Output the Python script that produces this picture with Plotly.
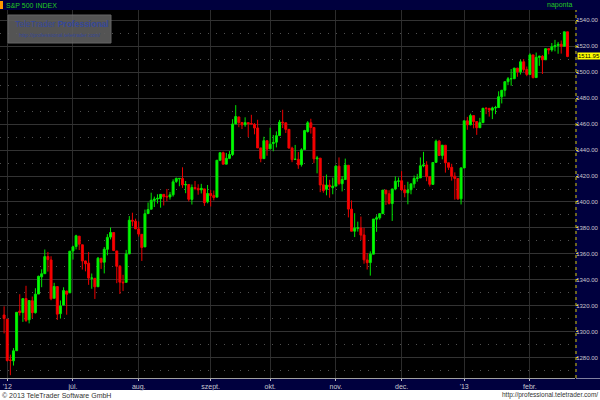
import plotly.graph_objects as go

# ---------------- data (S&P 500 daily) ----------------
dates = [
    "2012-05-31",
    "2012-06-01", "2012-06-04", "2012-06-05", "2012-06-06", "2012-06-07", "2012-06-08",
    "2012-06-11", "2012-06-12", "2012-06-13", "2012-06-14", "2012-06-15",
    "2012-06-18", "2012-06-19", "2012-06-20", "2012-06-21", "2012-06-22",
    "2012-06-25", "2012-06-26", "2012-06-27", "2012-06-28", "2012-06-29",
    "2012-07-02", "2012-07-03", "2012-07-05", "2012-07-06",
    "2012-07-09", "2012-07-10", "2012-07-11", "2012-07-12", "2012-07-13",
    "2012-07-16", "2012-07-17", "2012-07-18", "2012-07-19", "2012-07-20",
    "2012-07-23", "2012-07-24", "2012-07-25", "2012-07-26", "2012-07-27",
    "2012-07-30", "2012-07-31",
    "2012-08-01", "2012-08-02", "2012-08-03",
    "2012-08-06", "2012-08-07", "2012-08-08", "2012-08-09", "2012-08-10",
    "2012-08-13", "2012-08-14", "2012-08-15", "2012-08-16", "2012-08-17",
    "2012-08-20", "2012-08-21", "2012-08-22", "2012-08-23", "2012-08-24",
    "2012-08-27", "2012-08-28", "2012-08-29", "2012-08-30", "2012-08-31",
    "2012-09-04", "2012-09-05", "2012-09-06", "2012-09-07",
    "2012-09-10", "2012-09-11", "2012-09-12", "2012-09-13", "2012-09-14",
    "2012-09-17", "2012-09-18", "2012-09-19", "2012-09-20", "2012-09-21",
    "2012-09-24", "2012-09-25", "2012-09-26", "2012-09-27", "2012-09-28",
    "2012-10-01", "2012-10-02", "2012-10-03", "2012-10-04", "2012-10-05",
    "2012-10-08", "2012-10-09", "2012-10-10", "2012-10-11", "2012-10-12",
    "2012-10-15", "2012-10-16", "2012-10-17", "2012-10-18", "2012-10-19",
    "2012-10-22", "2012-10-23", "2012-10-24", "2012-10-25", "2012-10-26",
    "2012-10-31",
    "2012-11-01", "2012-11-02", "2012-11-05", "2012-11-06", "2012-11-07", "2012-11-08", "2012-11-09",
    "2012-11-12", "2012-11-13", "2012-11-14", "2012-11-15", "2012-11-16",
    "2012-11-19", "2012-11-20", "2012-11-21", "2012-11-23",
    "2012-11-26", "2012-11-27", "2012-11-28", "2012-11-29", "2012-11-30",
    "2012-12-03", "2012-12-04", "2012-12-05", "2012-12-06", "2012-12-07",
    "2012-12-10", "2012-12-11", "2012-12-12", "2012-12-13", "2012-12-14",
    "2012-12-17", "2012-12-18", "2012-12-19", "2012-12-20", "2012-12-21",
    "2012-12-24", "2012-12-26", "2012-12-27", "2012-12-28", "2012-12-31",
    "2013-01-02", "2013-01-03", "2013-01-04",
    "2013-01-07", "2013-01-08", "2013-01-09", "2013-01-10", "2013-01-11",
    "2013-01-14", "2013-01-15", "2013-01-16", "2013-01-17", "2013-01-18",
    "2013-01-22", "2013-01-23", "2013-01-24", "2013-01-25",
    "2013-01-28", "2013-01-29", "2013-01-30", "2013-01-31",
    "2013-02-01", "2013-02-04", "2013-02-05", "2013-02-06", "2013-02-07", "2013-02-08",
    "2013-02-11", "2013-02-12", "2013-02-13", "2013-02-14", "2013-02-15",
    "2013-02-19", "2013-02-20",
]

opens = [
    1313.09,
    1309.87, 1278.29, 1277.82, 1285.61, 1316.15, 1314.99,
    1325.72, 1309.40, 1324.02, 1314.88, 1329.19,
    1342.42, 1344.83, 1358.04, 1355.43, 1325.92,
    1334.90, 1314.09, 1320.71, 1331.52, 1330.12,
    1362.33, 1365.75, 1373.72, 1367.09,
    1354.66, 1352.96, 1341.40, 1341.29, 1334.81,
    1356.50, 1353.68, 1363.58, 1373.01, 1376.51,
    1362.34, 1350.52, 1338.35, 1338.17, 1360.05,
    1385.94, 1385.27,
    1379.32, 1375.13, 1365.45,
    1391.04, 1394.46, 1401.23, 1402.26, 1402.58,
    1405.87, 1404.36, 1403.89, 1405.57, 1415.84,
    1417.85, 1418.13, 1413.09, 1413.49, 1401.99,
    1411.13, 1410.44, 1409.32, 1410.08, 1400.07,
    1406.54, 1404.94, 1403.74, 1432.12,
    1437.92, 1429.13, 1433.56, 1436.56, 1460.07,
    1465.42, 1461.19, 1459.50, 1461.05, 1460.34,
    1459.76, 1456.94, 1441.60, 1433.36, 1447.13,
    1440.90, 1444.99, 1446.05, 1451.08, 1461.40,
    1460.93, 1455.90, 1441.48, 1432.82, 1432.84,
    1428.75, 1440.31, 1454.22, 1460.94, 1457.34,
    1433.21, 1433.74, 1413.20, 1409.74, 1412.97,
    1410.99,
    1412.20, 1427.59, 1414.02, 1417.26, 1428.27, 1394.53, 1377.55,
    1379.86, 1380.03, 1374.64, 1355.41, 1353.36,
    1359.88, 1386.82, 1387.79, 1391.03,
    1409.15, 1406.29, 1398.77, 1409.96, 1415.95,
    1416.34, 1409.46, 1407.05, 1409.43, 1413.95,
    1418.07, 1418.55, 1427.84, 1428.48, 1419.45,
    1413.54, 1430.47, 1446.79, 1435.81, 1443.67,
    1430.15, 1426.66, 1419.83, 1418.10, 1402.43,
    1426.19, 1462.42, 1459.37,
    1466.47, 1461.89, 1457.15, 1461.02, 1472.12,
    1472.05, 1470.67, 1472.33, 1472.63, 1480.95,
    1485.98, 1492.56, 1494.81, 1494.82,
    1502.96, 1500.18, 1507.84, 1501.96,
    1498.11, 1513.17, 1495.71, 1511.29, 1512.12, 1509.39,
    1517.93, 1517.01, 1519.43, 1520.33, 1521.38,
    1519.79, 1530.94,
]

highs = [
    1319.74,
    1309.87, 1282.55, 1287.62, 1315.13, 1329.05, 1325.81,
    1335.52, 1324.31, 1327.28, 1333.68, 1343.32,
    1348.22, 1363.46, 1361.57, 1358.27, 1337.82,
    1334.90, 1324.24, 1334.40, 1331.52, 1362.17,
    1366.35, 1374.81, 1373.85, 1367.09,
    1354.87, 1361.54, 1345.00, 1341.29, 1357.70,
    1357.26, 1365.36, 1375.26, 1380.39, 1376.51,
    1362.34, 1351.53, 1343.98, 1363.13, 1389.19,
    1391.74, 1387.16,
    1385.03, 1375.13, 1394.16,
    1399.63, 1407.14, 1404.14, 1405.95, 1405.98,
    1405.87, 1410.03, 1407.73, 1417.44, 1418.71,
    1418.13, 1426.68, 1416.12, 1413.49, 1413.46,
    1416.17, 1413.63, 1413.95, 1410.08, 1413.09,
    1409.31, 1408.81, 1432.12, 1437.92,
    1438.74, 1437.76, 1439.15, 1463.76, 1474.51,
    1465.63, 1461.47, 1465.15, 1461.23, 1467.07,
    1460.72, 1463.24, 1441.60, 1450.20, 1447.13,
    1457.14, 1451.52, 1454.30, 1463.14, 1470.96,
    1460.93, 1455.90, 1442.52, 1443.90, 1438.43,
    1441.31, 1455.51, 1462.20, 1464.02, 1457.34,
    1435.46, 1433.74, 1420.04, 1421.12, 1417.09,
    1418.76,
    1428.35, 1434.27, 1419.90, 1433.38, 1428.27, 1401.23, 1391.39,
    1384.87, 1388.81, 1380.13, 1360.62, 1362.03,
    1386.89, 1389.77, 1391.25, 1409.16,
    1409.15, 1409.01, 1410.31, 1419.70, 1418.86,
    1423.73, 1413.14, 1415.56, 1413.95, 1420.34,
    1421.64, 1434.27, 1438.59, 1431.36, 1419.45,
    1430.67, 1448.00, 1447.75, 1443.70, 1443.67,
    1430.15, 1429.42, 1422.80, 1418.10, 1426.74,
    1462.43, 1465.47, 1467.94,
    1466.47, 1461.89, 1464.73, 1472.30, 1472.75,
    1472.05, 1473.31, 1473.96, 1485.16, 1485.98,
    1492.56, 1496.13, 1502.27, 1503.26,
    1503.23, 1509.35, 1509.94, 1504.19,
    1514.41, 1513.17, 1514.96, 1512.53, 1512.90, 1518.31,
    1518.31, 1522.29, 1524.69, 1523.14, 1524.24,
    1530.94, 1530.94,
]

lows = [
    1298.90,
    1277.25, 1266.74, 1274.16, 1285.61, 1312.68, 1307.77,
    1307.73, 1306.62, 1310.51, 1314.14, 1329.19,
    1334.46, 1344.83, 1346.45, 1324.41, 1325.92,
    1309.27, 1310.30, 1320.71, 1313.29, 1330.12,
    1355.70, 1363.53, 1363.02, 1348.03,
    1346.65, 1336.27, 1333.25, 1325.41, 1334.81,
    1348.51, 1345.07, 1358.96, 1371.21, 1362.19,
    1337.56, 1329.24, 1331.50, 1338.17, 1360.05,
    1381.37, 1379.17,
    1373.35, 1354.65, 1365.45,
    1391.04, 1394.46, 1396.13, 1398.80, 1395.62,
    1397.32, 1400.60, 1401.83, 1404.15, 1414.67,
    1412.12, 1410.86, 1406.78, 1400.50, 1398.04,
    1409.11, 1405.59, 1406.57, 1397.01, 1398.96,
    1396.56, 1401.25, 1403.74, 1431.45,
    1428.98, 1429.13, 1432.99, 1435.34, 1460.07,
    1457.55, 1456.13, 1457.88, 1449.98, 1459.51,
    1452.06, 1441.59, 1430.53, 1433.36, 1435.60,
    1440.90, 1439.01, 1441.99, 1451.08, 1456.89,
    1453.10, 1441.18, 1430.64, 1432.82, 1425.53,
    1427.24, 1440.31, 1453.35, 1452.63, 1429.85,
    1422.06, 1407.56, 1407.10, 1405.14, 1403.28,
    1405.95,
    1412.20, 1412.91, 1408.13, 1417.26, 1388.14, 1377.51, 1373.03,
    1377.19, 1370.78, 1352.50, 1348.05, 1343.35,
    1359.88, 1377.04, 1386.39, 1391.03,
    1397.68, 1398.03, 1385.43, 1409.04, 1411.63,
    1408.46, 1403.65, 1398.23, 1405.93, 1410.90,
    1415.64, 1418.55, 1426.76, 1416.00, 1411.88,
    1413.54, 1430.47, 1435.80, 1432.82, 1422.58,
    1424.66, 1416.43, 1401.80, 1401.58, 1398.11,
    1426.19, 1455.53, 1458.99,
    1456.62, 1451.64, 1457.15, 1461.02, 1467.58,
    1465.69, 1463.76, 1467.60, 1472.63, 1475.81,
    1481.16, 1489.90, 1489.46, 1494.82,
    1496.33, 1498.09, 1500.11, 1496.76,
    1498.11, 1495.02, 1495.71, 1504.71, 1498.49, 1509.39,
    1513.61, 1515.61, 1515.93, 1514.02, 1514.14,
    1519.79, 1511.41,
]

closes = [
    1310.33,
    1278.04, 1278.18, 1285.50, 1315.13, 1314.99, 1325.66,
    1308.93, 1324.18, 1314.88, 1329.10, 1342.84,
    1344.78, 1357.98, 1355.69, 1325.51, 1335.02,
    1313.72, 1319.99, 1331.85, 1329.04, 1362.16,
    1365.51, 1374.02, 1367.58, 1354.68,
    1352.46, 1341.47, 1341.45, 1334.76, 1356.78,
    1353.64, 1363.67, 1372.78, 1376.51, 1362.66,
    1350.52, 1338.31, 1337.89, 1360.02, 1385.97,
    1385.30, 1379.32,
    1375.32, 1365.00, 1390.99,
    1394.23, 1401.35, 1402.22, 1402.80, 1405.87,
    1404.11, 1403.93, 1405.53, 1415.51, 1418.16,
    1418.13, 1413.17, 1413.49, 1402.08, 1411.13,
    1410.44, 1409.30, 1410.49, 1399.48, 1406.58,
    1404.94, 1403.44, 1432.12, 1437.92,
    1429.08, 1433.56, 1436.56, 1459.99, 1465.77,
    1461.19, 1459.32, 1461.05, 1460.26, 1460.15,
    1456.89, 1441.59, 1433.32, 1447.15, 1440.67,
    1444.49, 1445.75, 1450.99, 1461.40, 1460.93,
    1455.88, 1441.48, 1432.56, 1432.84, 1428.59,
    1440.13, 1454.92, 1460.91, 1457.34, 1433.19,
    1433.82, 1413.11, 1408.75, 1412.97, 1411.94,
    1412.16,
    1427.59, 1414.20, 1417.26, 1428.39, 1394.53, 1377.51, 1379.85,
    1380.03, 1374.53, 1355.49, 1353.33, 1359.88,
    1386.89, 1387.81, 1391.03, 1409.15,
    1406.29, 1398.94, 1409.93, 1415.95, 1416.18,
    1409.46, 1407.05, 1409.28, 1413.94, 1418.07,
    1418.55, 1427.84, 1428.48, 1419.45, 1413.58,
    1430.36, 1446.79, 1435.81, 1443.69, 1430.15,
    1426.66, 1419.83, 1418.10, 1402.43, 1426.19,
    1462.42, 1459.37, 1466.47,
    1461.89, 1457.15, 1461.02, 1472.12, 1472.05,
    1470.68, 1472.34, 1472.63, 1480.94, 1485.98,
    1492.56, 1494.81, 1494.82, 1502.96,
    1500.18, 1507.84, 1501.96, 1498.11,
    1513.17, 1495.71, 1511.29, 1512.12, 1509.39, 1517.93,
    1517.01, 1519.43, 1520.33, 1521.38, 1519.79,
    1530.94, 1511.95,
]

tick_dates = ["2012-06-01", "2012-07-02", "2012-08-01", "2012-09-04", "2012-10-01",
              "2012-11-01", "2012-12-03", "2013-01-02", "2013-02-01"]
tick_labels = ["'12", "júl.", "aug.", "szept.", "okt.", "nov.", "dec.", "'13", "febr."]
y_ticks = [1280, 1300, 1320, 1340, 1360, 1380, 1400, 1420, 1440, 1460, 1480, 1500, 1520, 1540]

title_text = "S&P 500 INDEX"
period_text = "naponta"

# ---------------- layout helpers ----------------
W, H = 600, 400
ML, MR, MT, MB = 0, 25, 10, 22
PW = W - ML - MR
PH = H - MT - MB


def px(x):
    return (x - ML) / PW


def py(y):
    return (H - MB - y) / PH


NAVY = "#00003e"
SANS = "Liberation Sans, Arial, sans-serif"

fig = go.Figure(go.Candlestick(
    x=dates, open=opens, high=highs, low=lows, close=closes,
    increasing=dict(line=dict(color="#00e600", width=1), fillcolor="#00ff00"),
    decreasing=dict(line=dict(color="#ee0000", width=1), fillcolor="#ff0000"),
    whiskerwidth=0,
    hoverinfo="skip",
))

shapes = [
    # top title bar
    dict(type="rect", xref="paper", yref="paper", x0=px(0), x1=px(600), y0=py(10), y1=py(0),
         fillcolor=NAVY, line=dict(width=0), layer="below"),
    dict(type="rect", xref="paper", yref="paper", x0=px(0), x1=px(3), y0=py(9), y1=py(1),
         fillcolor="#ff9900", line=dict(width=0), layer="below"),
    # right axis panel
    dict(type="rect", xref="paper", yref="paper", x0=px(575), x1=px(600), y0=py(390), y1=py(10),
         fillcolor=NAVY, line=dict(width=0), layer="below"),
    # bottom axis band
    dict(type="rect", xref="paper", yref="paper", x0=px(0), x1=px(575), y0=py(390), y1=py(378),
         fillcolor=NAVY, line=dict(width=0), layer="below"),
    # yellow dotted border on the right
    dict(type="line", xref="paper", yref="paper", x0=px(576), x1=px(576), y0=py(378), y1=py(10),
         line=dict(color="#d8c800", width=1, dash="dot"), layer="above"),
    # corner separator
    dict(type="line", xref="paper", yref="paper", x0=px(576), x1=px(600), y0=py(378.5), y1=py(378.5),
         line=dict(color="#8080a0", width=1), layer="below"),
    # watermark box
    dict(type="rect", xref="paper", yref="paper", x0=px(8), x1=px(111), y0=py(43), y1=py(15),
         fillcolor="#5e5e5e", line=dict(color="#707070", width=1), layer="above", opacity=0.9),
]

annotations = [
    dict(text=title_text, xref="paper", yref="paper", x=px(4), y=py(5), xanchor="left", yanchor="middle",
         showarrow=False, font=dict(family=SANS, size=7, color="#22c822")),
    dict(text=period_text, xref="paper", yref="paper", x=px(574), y=py(5), xanchor="right", yanchor="middle",
         showarrow=False, font=dict(family=SANS, size=7, color="#22c822")),
    dict(text="TeleTrader <b>Professional</b>", xref="paper", yref="paper", x=px(13), y=py(24),
         xanchor="left", yanchor="middle", showarrow=False,
         font=dict(family=SANS, size=8.5, color="#34489a")),
    dict(text="http://professional.teletrader.com/", xref="paper", yref="paper", x=px(103), y=py(35),
         xanchor="right", yanchor="middle", showarrow=False,
         font=dict(family=SANS, size=5.5, color="#34489a")),
    dict(text="© 2013 TeleTrader Software GmbH", xref="paper", yref="paper", x=px(0), y=py(395),
         xanchor="left", yanchor="middle", showarrow=False,
         font=dict(family=SANS, size=7, color="#333333")),
    dict(text="http://professional.teletrader.com/", xref="paper", yref="paper", x=px(600), y=py(395),
         xanchor="right", yanchor="middle", showarrow=False,
         font=dict(family=SANS, size=6.5, color="#333333")),
    dict(text=f"{closes[-1]:.2f}", xref="paper", yref="y", x=px(577), y=closes[-1],
         xanchor="left", yanchor="middle", showarrow=False, bgcolor="#ffff00", borderpad=0,
         font=dict(family=SANS, size=6, color="#000000")),
]

fig.update_layout(
    width=W, height=H,
    margin=dict(l=ML, r=MR, t=MT, b=MB, pad=0, autoexpand=False),
    paper_bgcolor="#ffffff",
    plot_bgcolor="#000000",
    showlegend=False,
    boxgap=0.1,
    shapes=shapes,
    annotations=annotations,
    xaxis=dict(
        type="category",
        range=[-1.31, 182.4],
        rangeslider=dict(visible=False),
        tickmode="array", tickvals=tick_dates, ticktext=tick_labels,
        showgrid=True, gridcolor="#2c2c2c", gridwidth=1,
        showline=True, linecolor="#a0a0a0", linewidth=1,
        ticks="outside", ticklen=2, tickcolor="#c0c0c0",
        tickfont=dict(family=SANS, size=7, color="#c8c8d0"),
        zeroline=False, fixedrange=True,
    ),
    yaxis=dict(
        side="right",
        range=[1264.6, 1547.7],
        tickmode="array", tickvals=y_ticks,
        tickformat=".2f",
        showgrid=True, gridcolor="#333333", gridwidth=1,
        minor=dict(dtick=10, tick0=1270, showgrid=True, gridcolor="#505050", griddash="1px,7px"),
        ticks="outside", ticklen=2, tickcolor="#d8c800",
        ticklabelstandoff=-3,
        tickfont=dict(family=SANS, size=6, color="#c8c8d0"),
        showline=False, zeroline=False, fixedrange=True,
    ),
)

fig.write_html(
    "out.html",
    config={"displayModeBar": False, "staticPlot": True},
    post_script="document.body.style.margin='0';document.body.style.padding='0';",
)
